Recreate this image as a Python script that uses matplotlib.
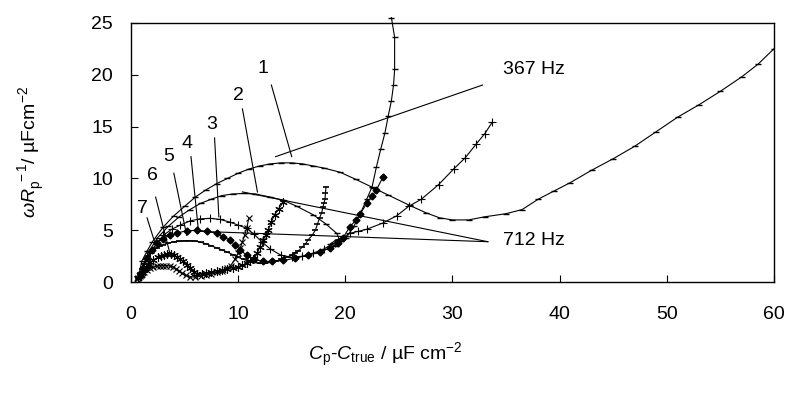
import matplotlib
matplotlib.use("Agg")
import matplotlib.pyplot as plt

plt.rcParams['font.family'] = ['Liberation Sans', 'DejaVu Sans']
plt.rcParams['mathtext.fontset'] = 'custom'
plt.rcParams['mathtext.rm'] = 'Liberation Sans'
plt.rcParams['mathtext.it'] = 'Liberation Sans:italic'

# curve 1
c1_x = [0.7, 1.0, 1.5, 2.0, 3.0, 4.0, 5.0, 6.0, 7.0, 8.0, 9.0, 10.0, 11.0, 12.0, 13.0, 14.0,
        15.0, 16.0, 17.0, 18.0, 19.5, 21.0, 22.6, 24.0, 26.0, 27.5, 28.8, 30.0, 31.5, 33.0,
        35.0, 36.5, 38.0, 39.5, 41.0, 43.0, 45.0, 47.0, 49.0, 51.0, 53.0, 55.0, 57.0, 58.5, 60.0]
c1_y = [0.5, 2.0, 3.0, 3.9, 5.3, 6.4, 7.3, 8.2, 8.9, 9.5, 10.0, 10.5, 10.9, 11.2, 11.4, 11.5,
        11.5, 11.4, 11.2, 11.0, 10.6, 9.9, 9.1, 8.4, 7.4, 6.7, 6.2, 6.0, 6.0, 6.3,
        6.6, 7.0, 8.0, 8.8, 9.6, 10.8, 11.9, 13.1, 14.5, 15.9, 17.1, 18.4, 19.8, 21.0, 22.5]

# curve 2
c2_x = [0.8, 1.2, 1.7, 2.5, 3.5, 4.5, 5.5, 6.5, 7.5, 8.5, 9.5, 10.5, 11.6, 13.0, 14.2, 15.5,
        17.0, 18.2, 19.2, 19.5, 19.0, 18.6, 19.2, 20.1, 20.8, 21.4, 22.0, 22.5, 22.9, 23.3,
        23.7, 24.0, 24.3, 24.5, 24.6, 24.6, 24.3]
c2_y = [0.6, 1.8, 3.0, 4.3, 5.4, 6.3, 7.0, 7.6, 8.0, 8.35, 8.5, 8.55, 8.5, 8.2, 7.9, 7.3,
        6.5, 5.6, 4.7, 4.0, 3.5, 3.7, 4.1, 4.3, 5.4, 6.6, 8.0, 9.2, 11.1, 12.8,
        14.4, 16.0, 17.5, 19.0, 20.5, 23.6, 25.5]

# curve 3
c3_x = [0.8, 1.2, 1.8, 2.4, 3.0, 3.8, 4.6, 5.5, 6.4, 7.4, 8.3, 9.2, 10.0, 10.8, 11.5, 12.2,
        13.0, 14.0, 15.0, 16.0, 17.0, 18.0, 19.0, 20.4, 21.2, 22.0, 23.5, 24.8, 25.9, 27.1,
        28.7, 30.1, 31.2, 32.2, 33.0, 33.7]
c3_y = [0.5, 1.5, 2.8, 3.7, 4.5, 5.1, 5.5, 5.9, 6.1, 6.15, 6.05, 5.8, 5.5, 5.2, 4.6, 3.9,
        3.2, 2.6, 2.4, 2.5, 2.8, 3.2, 3.8, 4.7, 4.9, 5.1, 5.7, 6.4, 7.3, 8.0,
        9.4, 10.9, 12.0, 13.3, 14.3, 15.4]

# curve 4
c4_x = [0.8, 1.1, 1.5, 2.0, 2.4, 3.0, 3.6, 4.3, 5.2, 6.2, 7.1, 8.0, 8.6, 9.2, 9.7, 10.2,
        10.8, 11.5, 12.3, 13.2, 14.2, 15.3, 16.5, 17.6, 18.6, 19.3, 19.8, 20.4, 21.0, 21.4,
        22.0, 22.5, 22.9, 23.5]
c4_y = [0.6, 1.4, 2.3, 3.1, 3.8, 4.2, 4.5, 4.75, 4.95, 5.0, 4.9, 4.7, 4.4, 4.05, 3.6, 3.1,
        2.6, 2.2, 2.0, 2.0, 2.1, 2.3, 2.6, 2.9, 3.3, 3.8, 4.3, 5.3, 6.0, 6.6,
        7.6, 8.3, 8.9, 10.1]

# curve 5
c5_x = [0.7, 0.85, 1.0, 1.2, 1.4, 1.6, 1.8, 2.1, 2.4, 2.7, 3.0, 3.5, 4.0, 4.5, 5.0, 5.5,
        6.0, 6.5, 7.0, 7.5, 8.0, 8.5, 9.0, 9.5, 10.0, 10.5, 11.0, 11.5, 12.0, 12.5, 13.0,
        13.5, 14.0, 14.5, 15.0, 15.3, 15.6, 16.0, 16.3, 16.5, 16.9, 17.2, 17.4, 17.6, 17.8,
        17.9, 18.0, 18.1, 18.15, 18.2]
c5_y = [0.4, 0.85, 1.3, 1.75, 2.2, 2.55, 2.9, 3.1, 3.3, 3.45, 3.6, 3.75, 3.9, 3.95, 4.0, 4.0,
        3.95, 3.85, 3.7, 3.5, 3.3, 3.1, 2.9, 2.65, 2.4, 2.2, 2.0, 1.9, 1.8, 1.8, 1.9,
        2.0, 2.2, 2.4, 2.6, 2.8, 3.0, 3.4, 3.7, 4.05, 4.5, 5.0, 5.6, 6.2, 6.7,
        7.2, 7.6, 8.0, 8.6, 9.2]

# curve 6
c6_x = [0.7, 0.85, 1.0, 1.2, 1.4, 1.6, 1.8, 2.1, 2.5, 2.8, 3.1, 3.4, 3.7, 4.0, 4.3, 4.6,
        4.9, 5.2, 5.5, 5.9, 6.2, 6.6, 7.0, 7.5, 8.0, 8.5, 9.0, 9.5, 10.0, 10.4, 10.8, 11.1,
        11.4, 11.8, 12.0, 12.3, 12.6, 12.8, 13.1, 13.4, 13.8, 14.2]
c6_y = [0.4, 0.65, 0.9, 1.15, 1.4, 1.65, 1.9, 2.15, 2.4, 2.55, 2.65, 2.7, 2.7, 2.6, 2.4, 2.2,
        2.0, 1.7, 1.35, 1.0, 0.8, 0.8, 0.9, 1.0, 1.1, 1.2, 1.3, 1.4, 1.5, 1.65, 1.8, 2.0,
        2.2, 2.8, 3.4, 4.05, 4.5, 5.0, 5.8, 6.5, 7.1, 7.7]

# curve 7
c7_x = [0.6, 0.7, 0.8, 0.9, 1.0, 1.2, 1.5, 1.8, 2.1, 2.4, 2.7, 3.0, 3.3, 3.6, 3.9, 4.2,
        4.5, 4.8, 5.1, 5.5, 6.0, 6.5, 7.0, 7.5, 8.0, 8.5, 9.0, 9.3, 9.7, 10.0, 10.2, 10.4,
        10.6, 10.8, 11.0]
c7_y = [0.3, 0.45, 0.6, 0.7, 0.8, 1.0, 1.2, 1.35, 1.45, 1.55, 1.6, 1.6, 1.6, 1.55, 1.5, 1.3,
        1.1, 0.85, 0.65, 0.5, 0.5, 0.6, 0.7, 0.8, 0.95, 1.1, 1.35, 1.6, 2.2, 2.8, 3.3, 3.9,
        4.5, 5.2, 6.2]

# curve labels: text position, leader line start, leader line end
labels = ['1', '2', '3', '4', '5', '6', '7']
label_xy = [(12.3, 20.6), (10.0, 18.0), (7.5, 15.2), (5.2, 13.4), (3.5, 12.1), (2.0, 10.3), (1.1, 7.1)]
leader_from = [(13.1, 19.0), (10.4, 16.7), (7.8, 13.9), (5.6, 12.1), (4.0, 10.5), (2.3, 8.2), (1.5, 6.2)]
leader_to = [(15.0, 12.1), (11.8, 8.7), (8.2, 6.3), (6.3, 4.9), (5.2, 4.5), (3.6, 2.9), (2.2, 3.9)]

freq_text = ['367 Hz', '712 Hz']
freq_xy = [(34.7, 20.5), (34.7, 4.0)]
freq_lines = [[(13.5, 12.1), (32.8, 19.0)],
              [(10.4, 8.7), (33.3, 3.9)],
              [(6.4, 4.9), (33.3, 3.9)]]

fig = plt.figure(figsize=(7.89, 3.93), dpi=100)
ax = fig.add_axes([0.166, 0.282, 0.815, 0.660])

lw = 0.8
ax.plot(c1_x, c1_y, 'k-', lw=lw, marker='_', ms=4, mew=1)
ax.plot(c2_x, c2_y, 'k-', lw=lw, marker='_', ms=4, mew=1, clip_on=False)
ax.plot(c3_x, c3_y, 'k-', lw=lw, marker='+', ms=6, mew=0.8)
ax.plot(c4_x, c4_y, 'k-', lw=lw, marker='D', ms=3.5)
ax.plot(c5_x, c5_y, 'k-', lw=lw, marker='_', ms=5, mew=1.2)
ax.plot(c6_x, c6_y, 'k-', lw=lw, marker=(6, 2, 0), ms=6, mew=0.8)
ax.plot(c7_x, c7_y, 'k-', lw=lw, marker='x', ms=5, mew=0.8)

for lab, xy, p0, p1 in zip(labels, label_xy, leader_from, leader_to):
    ax.plot([p0[0], p1[0]], [p0[1], p1[1]], 'k-', lw=0.8)
    ax.text(xy[0], xy[1], lab, fontsize=14, ha='center', va='center')

for (p0, p1) in freq_lines:
    ax.plot([p0[0], p1[0]], [p0[1], p1[1]], 'k-', lw=0.8)
for t, xy in zip(freq_text, freq_xy):
    ax.text(xy[0], xy[1], t, fontsize=14, ha='left', va='center')

ax.set_xlim(0, 60)
ax.set_ylim(0, 25)
ax.set_xticks(range(0, 61, 10))
ax.set_yticks(range(0, 26, 5))
ax.tick_params(direction='in', length=5, width=0.8, labelsize=14)
ax.tick_params(axis='x', pad=17)
ax.tick_params(axis='y', pad=13)
for s in ax.spines.values():
    s.set_linewidth(1.0)

ax.set_xlabel(r'$C_{\rm p}$-$C_{\rm true}$ / µF cm$^{-2}$', fontsize=14)
ax.set_ylabel(r'$\omega R_{\rm p}^{\ -1}$/ µFcm$^{-2}$', fontsize=14)
ax.xaxis.set_label_coords(0.395, -0.225)
ax.yaxis.set_label_coords(-0.13, 0.5)

fig.savefig('out.png', dpi=100)
